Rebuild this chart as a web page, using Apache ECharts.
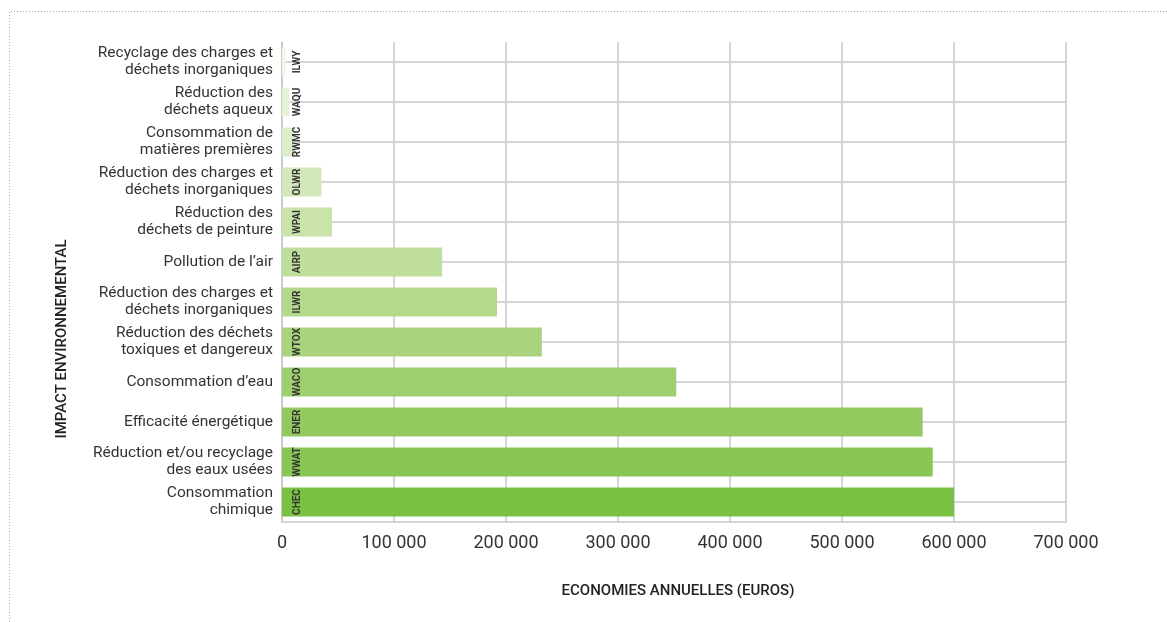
<!DOCTYPE html>
<html>
<head>
<meta charset="utf-8">
<style>
  html, body { margin: 0; padding: 0; background: #fff; }
  #chart { width: 1167px; height: 622px; }
</style>
<script src="https://cdn.jsdelivr.net/npm/echarts@6/dist/echarts.min.js"></script>
</head>
<body>
<div id="chart"></div>
<script>
// Impact categories, listed from top to bottom
const categories = [
  'Recyclage des charges et\ndéchets inorganiques',
  'Réduction des\ndéchets aqueux',
  'Consommation de\nmatières premières',
  'Réduction des charges et\ndéchets inorganiques',
  'Réduction des\ndéchets de peinture',
  'Pollution de l\u2019air',
  'Réduction des charges et\ndéchets inorganiques',
  'Réduction des déchets\ntoxiques et dangereux',
  'Consommation d\u2019eau',
  'Efficacité énergétique',
  'Réduction et/ou recyclage\ndes eaux usées',
  'Consommation\nchimique'
];
// Short codes written inside each bar
const codes = ['ILWY', 'WAQU', 'RWMC', 'OLWR', 'WPAI', 'AIRP', 'ILWR', 'WTOX', 'WACO', 'ENER', 'WWAT', 'CHEC'];
// Annual savings in euros
const savings = [3100, 6700, 11800, 35200, 44700, 143000, 192000, 232000, 352000, 572000, 581000, 600000];
// Axis ticks
const xTicks = [0, 100000, 200000, 300000, 400000, 500000, 600000, 700000];
// Green ramp, light to dark
const barColors = ['#f0f7e9', '#e6f2d9', '#dcedc9', '#d3e8ba', '#c9e3ab', '#bfde9c',
                   '#b4d98c', '#a9d47d', '#9ecf6f', '#93ca60', '#89c653', '#7ac143'];

const FONT = 'Roboto, "DejaVu Sans", sans-serif';
const GRID_COLOR = '#c9c9cb';
const GRID = { left: 282, right: 101, top: 42, bottom: 100 };
const plotWidth = 1167 - GRID.left - GRID.right;

const fmt = v => String(v).replace(/\B(?=(\d{3})+(?!\d))/g, ' ');

const chart = echarts.init(document.getElementById('chart'), null, { renderer: 'canvas' });
chart.setOption({
  backgroundColor: '#ffffff',
  animation: false,
  grid: GRID,
  xAxis: {
    type: 'value',
    min: xTicks[0],
    max: xTicks[xTicks.length - 1],
    interval: xTicks[1] - xTicks[0],
    axisLine: { show: true, lineStyle: { color: GRID_COLOR, width: 1.5 } },
    axisTick: { show: false },
    splitLine: { show: true, lineStyle: { color: GRID_COLOR, width: 1.5 } },
    axisLabel: { fontFamily: FONT, fontSize: 18, color: '#333', margin: 12, formatter: fmt }
  },
  yAxis: {
    type: 'category',
    inverse: true,
    data: categories,
    axisLine: { show: true, lineStyle: { color: GRID_COLOR, width: 1.5 } },
    // horizontal guide lines through the middle of each band
    axisTick: {
      show: true, alignWithLabel: true, inside: true, length: plotWidth,
      lineStyle: { color: GRID_COLOR, width: 1.5 }
    },
    splitLine: { show: false },
    axisLabel: { fontFamily: FONT, fontSize: 15.5, lineHeight: 17, color: '#333', margin: 9,
                 align: 'right', padding: [5, 0, 0, 0] }
  },
  graphic: [
    // dotted frame along the top and left edges
    { type: 'polyline', silent: true,
      shape: { points: [[9.5, 622], [9.5, 11.5], [1167, 11.5]] },
      style: { stroke: '#a8a8a8', lineWidth: 1, lineDash: [1, 2], fill: null } },
    { type: 'text', x: 62, y: 339, rotation: Math.PI / 2, silent: true,
      style: { text: 'IMPACT ENVIRONNEMENTAL', fontFamily: FONT, fontSize: 15, fontWeight: 500,
               fill: '#222', align: 'center', verticalAlign: 'middle' } },
    { type: 'text', x: 678, y: 591, silent: true,
      style: { text: 'ECONOMIES ANNUELLES (EUROS)', fontFamily: FONT, fontSize: 15, fontWeight: 500,
               fill: '#222', align: 'center', verticalAlign: 'middle' } }
  ],
  series: [{
    type: 'bar',
    barWidth: 29,
    data: savings.map((v, i) => ({ value: v, itemStyle: { color: barColors[i] } })),
    label: {
      show: true,
      position: [15, '50%'],
      rotate: 90,
      align: 'center',
      verticalAlign: 'middle',
      fontFamily: FONT,
      fontSize: 10,
      fontWeight: 'bold',
      color: '#333',
      formatter: p => codes[p.dataIndex]
    }
  }]
});
</script>
</body>
</html>
